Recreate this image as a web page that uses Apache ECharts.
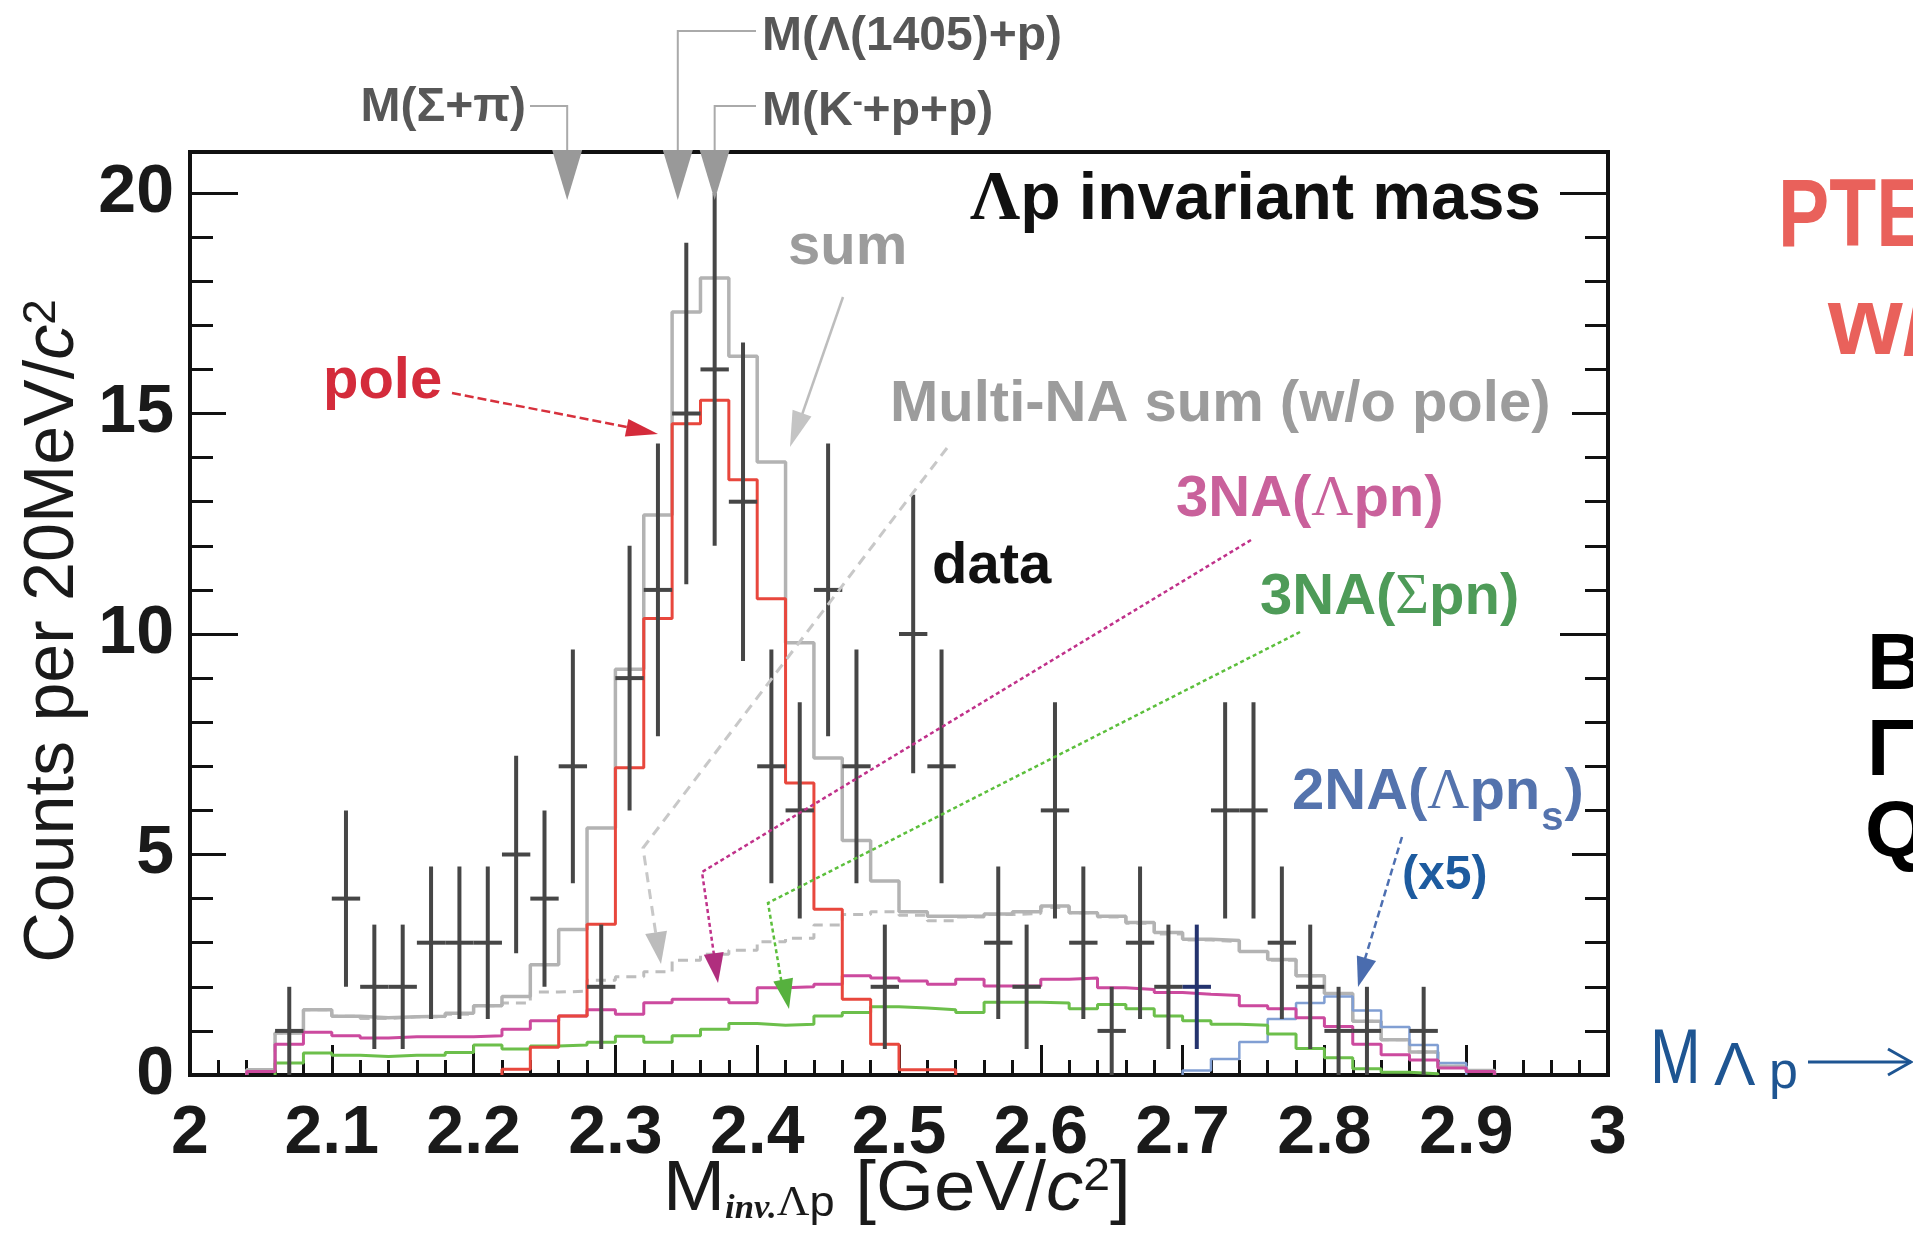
<!DOCTYPE html>
<html><head><meta charset="utf-8">
<script src="https://cdn.jsdelivr.net/npm/echarts@6/dist/echarts.min.js"></script>
<style>html,body{margin:0;padding:0;background:#fff;}#c{width:1913px;height:1233px;}</style>
</head><body><div id="c"></div>
<script>
// ---------------- data ----------------
const binCenters = [2.01,2.03,2.05,2.07,2.09,2.11,2.13,2.15,2.17,2.19,
                    2.21,2.23,2.25,2.27,2.29,2.31,2.33,2.35,2.37,2.39,
                    2.41,2.43,2.45,2.47,2.49,2.51,2.53,2.55,2.57,2.59,
                    2.61,2.63,2.65,2.67,2.69,2.71,2.73,2.75,2.77,2.79,
                    2.81,2.83,2.85,2.87,2.89,2.91,2.93,2.95,2.97,2.99];
const binWidth = 0.02;
const dataCounts = [0,0,0,1,0,4,2,2,3,3,
                    3,5,4,7,2,9,11,15,16,13,
                    7,6,11,7,2,10,7,0,3,2,
                    6,3,1,3,2,2,6,6,3,2,
                    1,1,0,1,0,0,0,0,0,0];
const dataErrors = [0,0,0,1,0,2,1.41,1.41,1.73,1.73,
                    1.73,2.24,2,2.65,1.41,3,3.32,3.87,4,3.61,
                    2.65,2.45,3.32,2.65,1.41,3.16,2.65,0,1.73,1.41,
                    2.45,1.73,1,1.73,1.41,1.41,2.45,2.45,1.73,1.41,
                    1,1,0,1,0,0,0,0,0,0];
const poleHist = [0,0,0,0,0,0,0,0,0,0,
                  0,0.13,0.63,1.34,3.42,6.97,10.35,14.77,15.3,13.5,
                  10.8,6.62,3.76,1.72,0.7,0.12,0.12,0,0,0,
                  0,0,0,0,0,0,0,0,0,0,
                  0,0,0,0,0,0,0,0,0,0];
const lpnHist = [0,0,0.08,0.7,0.97,0.89,0.84,0.87,0.87,0.87,
                 0.89,1.04,1.23,1.34,1.48,1.38,1.64,1.72,1.72,1.64,
                 1.98,2.0,2.06,2.25,2.2,2.13,2.06,2.17,2.02,2.02,
                 2.17,2.2,1.98,1.94,1.87,1.83,1.8,1.57,1.5,1.3,
                 1.1,0.7,0.46,0.34,0.16,0.08,0,0,0,0];
const spnHist = [0,0,0,0.27,0.5,0.45,0.42,0.45,0.45,0.51,
                 0.68,0.59,0.66,0.68,0.74,0.88,0.74,0.89,1.04,1.17,
                 1.13,1.15,1.34,1.42,1.55,1.52,1.48,1.42,1.65,1.65,
                 1.63,1.5,1.6,1.5,1.34,1.23,1.15,1.13,0.93,0.6,
                 0.39,0.14,0.06,0.03,0,0,0,0,0,0];
const lpnsHist = [0,0,0,0,0,0,0,0,0,0,
                  0,0,0,0,0,0,0,0,0,0,
                  0,0,0,0,0,0,0,0,0,0,
                  0,0,0,0,0,0.1,0.36,0.75,1.27,1.63,
                  1.78,1.46,1.09,0.68,0.27,0,0,0,0,0];
const sumHist = [0,0,0.12,0.95,1.48,1.33,1.3,1.32,1.33,1.4,
                 1.57,1.78,2.5,3.3,5.6,9.2,12.7,17.3,18.07,16.3,
                 13.9,9.8,7.19,5.32,4.4,3.7,3.6,3.6,3.65,3.7,
                 3.83,3.68,3.6,3.46,3.23,3.08,3.05,2.8,2.62,2.25,
                 1.85,1.22,0.8,0.52,0.2,0.1,0,0,0,0];
const multiNAHist = [0,0,0.1,0.95,1.48,1.33,1.28,1.32,1.32,1.38,
                     1.57,1.63,1.88,1.9,2.15,2.23,2.34,2.6,2.74,2.83,
                     3.02,3.1,3.4,3.64,3.7,3.62,3.5,3.58,3.64,3.66,
                     3.8,3.68,3.58,3.44,3.2,3.06,3.02,2.8,2.6,2.25,
                     1.85,1.22,0.8,0.52,0.2,0.1,0,0,0,0];
const xTickLabels = ['2','2.1','2.2','2.3','2.4','2.5','2.6','2.7','2.8','2.9','3'];
const yTickLabels = ['0','5','10','15','20'];
const thresholdMasses = [2.266, 2.344, 2.370];
const navyBin = 2.71;

// ---------------- helpers ----------------
const FONT = 'Liberation Sans, Arial, Helvetica, sans-serif';
const SERIF = 'Liberation Serif, Times New Roman, serif';
const mctx = document.createElement('canvas').getContext('2d');
function tw(text, size, weight, family){ mctx.font = (weight||'bold')+' '+size+'px '+(family||FONT); return mctx.measureText(text).width; }

function histSteps(vals){
  let first=-1,last=-1;
  vals.forEach((v,i)=>{ if(v>0){ if(first<0) first=i; last=i; } });
  const pts=[];
  if(first<0) return pts;
  const lo = i => binCenters[i]-binWidth/2;
  const hi = i => binCenters[i]+binWidth/2;
  pts.push([lo(first),0]);
  for(let i=first;i<=last;i++) pts.push([lo(i), vals[i]]);
  pts.push([hi(last),0]);
  return pts;
}
function yAx(pos, interval, len, labels){
  return {type:'value', min:0, max:20.93, interval:interval, position:pos,
    axisLine:{show:false}, splitLine:{show:false},
    axisTick:{show:true, inside:true, length:len, lineStyle:{color:'#111', width:3}},
    axisLabel: labels ? {show:true, margin:16, fontSize:68, fontWeight:'bold', fontFamily:FONT, color:'#1a1a1a',
      formatter: v => (Math.abs(v % 5) < 1e-9 && v <= 20) ? yTickLabels[Math.round(v/5)] : ''} : {show:false}};
}
function xAx(interval, len, labels){
  return {type:'value', min:2, max:3, interval:interval, position:'bottom',
    axisLine:{show:false}, splitLine:{show:false},
    axisTick:{show:true, inside:true, length:len, lineStyle:{color:'#111', width:3}},
    axisLabel: labels ? {show:true, margin:25, fontSize:68, fontWeight:'bold', fontFamily:FONT, color:'#1a1a1a',
      formatter: v => xTickLabels[Math.round((v-2)*10)]} : {show:false}};
}
function histSeries(vals, color, width, dash, z){
  return {type:'line', step:'end', data:histSteps(vals), symbol:'none', silent:true, z:z,
    lineStyle:{color:color, width:width, type: dash ? [10,7] : 'solid'}, animation:false};
}

const chart = echarts.init(document.getElementById('c'));
chart.setOption({
  animation:false,
  backgroundColor:'#fff',
  grid:{left:190, top:152, width:1418, height:923, show:true, borderColor:'#111', borderWidth:4, backgroundColor:'transparent'},
  xAxis:[xAx(0.02,15,false), xAx(0.1,30,true)],
  yAxis:[yAx('left',1,23,true), yAx('left',5,36,false), yAx('left',10,48,false),
         yAx('right',1,23,false), yAx('right',5,36,false), yAx('right',10,48,false)],
  series:[
    histSeries(multiNAHist,'#bdbdbd',3,true,2),
    histSeries(sumHist,'#b3b3b3',3.5,false,3),
    histSeries(lpnsHist,'#819fd3',2.5,false,4),
    histSeries(spnHist,'#6cbf4b',3,false,5),
    histSeries(lpnHist,'#cc4a9e',3,false,6),
    histSeries(poleHist,'#e8473d',3,false,7),
    {type:'custom', z:10, silent:true,
     data: binCenters.map((c,i)=>[c, dataCounts[i], dataErrors[i]]).filter(d=>d[1]>0),
     encode:{x:0,y:1},
     renderItem:(params, api)=>{
       const x=api.value(0), y=api.value(1), e=api.value(2);
       const top=api.coord([x,y+e]), bot=api.coord([x,Math.max(0,y-e)]);
       const l=api.coord([x-binWidth/2,y]), r=api.coord([x+binWidth/2,y]);
       const col = Math.abs(x-navyBin)<1e-6 ? '#24336e' : '#464646';
       return {type:'group', children:[
         {type:'line', shape:{x1:top[0],y1:top[1],x2:bot[0],y2:bot[1]}, style:{stroke:col,lineWidth:4}},
         {type:'line', shape:{x1:l[0],y1:l[1],x2:r[0],y2:r[1]}, style:{stroke:col,lineWidth:4}}
       ]};
     }}
  ]
});

// ---------------- annotations ----------------
function head(tip, from, len, hw){
  const dx=tip[0]-from[0], dy=tip[1]-from[1], d=Math.hypot(dx,dy), ux=dx/d, uy=dy/d;
  const bx=tip[0]-ux*len, by=tip[1]-uy*len;
  return [[tip[0],tip[1]],[bx-uy*hw,by+ux*hw],[bx+uy*hw,by-ux*hw]];
}
const G=[];
function txt(x,y,text,size,color,weight,align,rich,extra){
  const o={type:'text', x:x, y:y, z:50, silent:true, style:{text:text, fontSize:size, fontFamily:FONT,
    fontWeight:weight||'bold', fill:color, align:align||'left', verticalAlign:'middle', rich:rich||{}}};
  if(extra) Object.assign(o,extra);
  G.push(o);
}
function pline(points,color,width,dash){
  G.push({type:'polyline', z:40, silent:true, shape:{points:points}, style:{stroke:color, lineWidth:width, lineDash:dash||null, fill:null}});
}
function poly(points,color){
  G.push({type:'polygon', z:41, silent:true, shape:{points:points}, style:{fill:color}});
}

// pole
txt(323,382,'pole',58,'#d42b3b');
pline([[452,393],[632,428]],'#d7303c',2.5,[9,4]);
poly(head([658,434],[452,393],32,9),'#d42b3b');
// sum
txt(788,248,'sum',58,'#9c9c9c');
pline([[843,297],[796,432]],'#bdbdbd',2.5);
poly(head([790,447],[843,297],36,10),'#c4c4c4');
// multi-NA
txt(890,405,'Multi-NA sum (w/o pole)',58,'#9c9c9c');
pline([[947,448],[643,848],[656,935]],'#c8c8c8',3,[10,7]);
poly(head([661,964],[643,848],32,11),'#bcbcbc');
// title
txt(970,201,'{L|Λ}p invariant mass',66,'#111','bold','left',{L:{fontFamily:SERIF,fontWeight:'bold',fontSize:70}});
// data
txt(932,567,'data',58,'#111');
// 3NA(Λpn)
txt(1176,500,'3NA({L|Λ}pn)',58,'#c9619b','bold','left',{L:{fontFamily:SERIF,fontWeight:'normal',fontSize:58}});
pline([[1251,540],[702,872],[714,955]],'#c0318a',2.5,[4,3]);
poly(head([718,983],[702,872],30,10),'#b02e7e');
// 3NA(Σpn)
txt(1260,598,'3NA({L|Σ}pn)',58,'#4e9b58','bold','left',{L:{fontFamily:SERIF,fontWeight:'normal',fontSize:58}});
pline([[1300,632],[768,903],[782,985]],'#5cbf3c',2.5,[4,3]);
poly(head([789,1009],[768,903],30,10),'#56b13e');
// 2NA(Λpn_s) built from pieces
{
  const c='#5473ad', x0=1292;
  const w1 = tw('2NA(',58) + tw('Λ',58,'normal',SERIF) + tw('pn',58);
  txt(x0,793,'2NA({L|Λ}pn',58,c,'bold','left',{L:{fontFamily:SERIF,fontWeight:'normal',fontSize:58}});
  txt(x0+w1+1,819,'s',40,c);
  txt(x0+w1+1+tw('s',40)+1,793,')',58,c);
}
txt(1402,876,'(x5)',48,'#1d5b9f');
pline([[1402,837],[1364,962]],'#4d6fb1',2.5,[7,4]);
poly(head([1358,987],[1402,837],30,10),'#4a6cae');

// y-axis title
G.push({type:'text', x:54, y:631, rotation:Math.PI/2, z:50, silent:true,
  style:{text:'Counts per 20MeV/{i|c}{p|2}', fontSize:70, fontFamily:FONT, fontWeight:'normal', fill:'#1a1a1a',
    align:'center', verticalAlign:'middle',
    rich:{i:{fontStyle:'italic',fontSize:70,fontFamily:FONT}, p:{fontSize:46,fontFamily:FONT,verticalAlign:'top',lineHeight:40}}}});
// x-axis title
G.push({type:'text', x:663, y:1190, z:50, silent:true, scaleX:1.05,
  style:{text:'M{a|inv.}{b|Λ}{c|p} [GeV/{i|c}{p|2}]', fontSize:71, fontFamily:FONT, fontWeight:'normal', fill:'#1a1a1a',
    align:'left', verticalAlign:'middle',
    rich:{a:{fontFamily:SERIF,fontStyle:'italic',fontWeight:'bold',fontSize:33,lineHeight:22,verticalAlign:'bottom'},
          b:{fontFamily:SERIF,fontSize:43,lineHeight:30,verticalAlign:'bottom'},
          c:{fontFamily:FONT,fontSize:43,lineHeight:30,verticalAlign:'bottom'},
          i:{fontStyle:'italic',fontSize:71,fontFamily:FONT},
          p:{fontSize:46,fontFamily:FONT,verticalAlign:'top',lineHeight:40}}}});

// thresholds markers
const tx = thresholdMasses.map(m => chart.convertToPixel({xAxisIndex:0}, m));
tx.forEach(x => poly([[x-15,150],[x+15,150],[x,200]],'#999'));
pline([[530,106],[tx[0],106],[tx[0],152]],'#aaa',2);
pline([[tx[1],152],[tx[1],31],[756,31]],'#aaa',2);
pline([[tx[2],152],[tx[2],106],[756,106]],'#aaa',2);
txt(526,108,'M(Σ+π)',48,'#575757','bold','right');
txt(762,37,'M(Λ(1405)+p)',48,'#575757','bold','left');
txt(762,112,'M(K{m|-}+p+p)',48,'#575757','bold','left',{m:{fontSize:30,fontWeight:'bold',fontFamily:FONT,verticalAlign:'top',lineHeight:30}});

// right-side slide text (cut by page edge)
txt(1778,220,'PTE',96,'#e9615b','bold','left',null,{scaleX:0.8});
txt(1828,328,'w/',96,'#e9615b');
txt(1867,667,'B',80,'#000');
txt(1867,753,'Γ',80,'#000');
txt(1865,834,'Q',80,'#000');
txt(1650,1061,'M',78,'#1e5592','normal','left',null,{scaleX:0.78});
txt(1714,1068,'Λ',62,'#1e5592','normal');
txt(1769,1074,'p',52,'#1e5592','normal');
pline([[1808,1062],[1911,1062]],'#1e5592',3);
pline([[1888,1049],[1911,1062],[1888,1075]],'#1e5592',3);

chart.setOption({graphic:G});
</script>
</body></html>
